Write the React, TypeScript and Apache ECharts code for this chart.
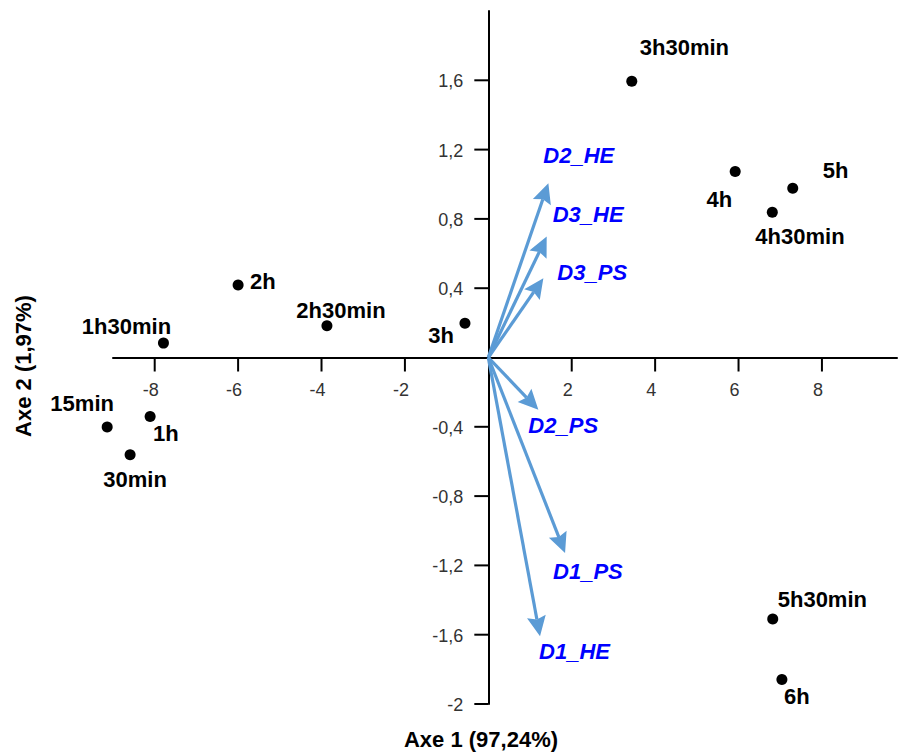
import React, { useEffect, useRef } from "react";
import * as echarts from "echarts";

// Observations (individuals)
const pointNames = ["15min", "30min", "1h", "1h30min", "2h", "2h30min", "3h", "3h30min", "4h", "4h30min", "5h", "5h30min", "6h"];
const pointX = [-9.14, -8.59, -8.11, -7.79, -6.0, -3.87, -0.56, 3.44, 5.92, 6.81, 7.3, 6.82, 7.04];
const pointY = [-0.401, -0.561, -0.34, 0.083, 0.419, 0.183, 0.198, 1.595, 1.073, 0.839, 0.977, -1.509, -1.859];
// label placement per point: [align, dx, dy]
const pointLabelPlace: [string, number, number][] = [
  ["center", -25, -23],
  ["center", 5, 25],
  ["left", 3, 17],
  ["center", -37, -17],
  ["left", 12, -3],
  ["center", 14, -15],
  ["right", -11, 12],
  ["left", 8, -34],
  ["right", -3, 28],
  ["left", -17, 24],
  ["left", 30, -18],
  ["left", 5, -19],
  ["left", 2, 17],
];

// Variables (arrows)
const varNames = ["D1_HE", "D1_PS", "D2_HE", "D2_PS", "D3_HE", "D3_PS"];
const varX = [1.24, 1.84, 1.44, 1.2, 1.4, 1.32];
const varY = [-1.609, -1.128, 1.006, -0.302, 0.698, 0.458];
const varLabelOffset: [number, number][] = [
  [-1, 15],
  [-12, 19],
  [-5, -28],
  [-10, 16],
  [6, -22],
  [14, -6],
];

const xTicks = [-8, -6, -4, -2, 2, 4, 6, 8];
const yTicks = [-2, -1.6, -1.2, -0.8, -0.4, 0.4, 0.8, 1.2, 1.6];
const xName = "Axe 1 (97,24%)";
const yName = "Axe 2 (1,97%)";

const FONT = '"Liberation Sans", Arial, sans-serif';
const TICK_COLOR = "#333";
const TICK_LEN = 14;

export default function App() {
  const ref = useRef<HTMLDivElement>(null);
  useEffect(() => {
    if (!ref.current) return;
    const chart = echarts.init(ref.current, undefined, { renderer: "svg" });
    const fmt = (v: number) => String(v).replace(".", ",");
    const axisCommon = {
      axisLine: { show: true, onZero: true, lineStyle: { color: "#000", width: 2 } },
      axisTick: { show: false },
      axisLabel: { show: false },
      splitLine: { show: false },
    };
    chart.setOption({
      animation: false,
      grid: { left: 113, right: 1, top: 11, bottom: 50, containLabel: false },
      xAxis: { type: "value", min: -9, max: 9.8, ...axisCommon },
      yAxis: { type: "value", min: -2, max: 2, ...axisCommon },
      graphic: [
        {
          type: "text",
          x: 481,
          y: 739,
          style: { text: xName, font: `bold 22px ${FONT}`, fill: "#000", textAlign: "center", textVerticalAlign: "middle" },
        },
        {
          type: "text",
          x: 23,
          y: 366,
          rotation: Math.PI / 2,
          style: { text: yName, font: `bold 22px ${FONT}`, fill: "#000", textAlign: "center", textVerticalAlign: "middle" },
        },
      ],
      series: [
        // x ticks + labels, along the x axis line (y = 0)
        {
          type: "custom",
          clip: false,
          silent: true,
          data: xTicks.map((v) => [v, 0]),
          renderItem: (params: any, api: any) => {
            const p = api.coord([api.value(0), 0]);
            return {
              type: "group",
              children: [
                {
                  type: "line",
                  shape: { x1: p[0], y1: p[1], x2: p[0], y2: p[1] + TICK_LEN },
                  style: { stroke: "#000", lineWidth: 2 },
                },
                {
                  type: "text",
                  x: p[0] - 4,
                  y: p[1] + 32,
                  style: {
                    text: fmt(api.value(0)),
                    font: `18px ${FONT}`,
                    fill: TICK_COLOR,
                    textAlign: "center",
                    textVerticalAlign: "middle",
                  },
                },
              ],
            };
          },
        },
        // y ticks + labels, along the y axis line (x = 0)
        {
          type: "custom",
          clip: false,
          silent: true,
          data: yTicks.map((v) => [0, v]),
          renderItem: (params: any, api: any) => {
            const p = api.coord([0, api.value(1)]);
            return {
              type: "group",
              children: [
                {
                  type: "line",
                  shape: { x1: p[0] - TICK_LEN, y1: p[1], x2: p[0], y2: p[1] },
                  style: { stroke: "#000", lineWidth: 2 },
                },
                {
                  type: "text",
                  x: p[0] - 25,
                  y: p[1] + 1,
                  style: {
                    text: fmt(api.value(1)),
                    font: `18px ${FONT}`,
                    fill: TICK_COLOR,
                    textAlign: "right",
                    textVerticalAlign: "middle",
                  },
                },
              ],
            };
          },
        },
        {
          type: "custom",
          clip: false,
          z: 3,
          data: varNames.map((n, i) => [varX[i], varY[i], i]),
          renderItem: (params: any, api: any) => {
            const i = api.value(2);
            const p0 = api.coord([0, 0]);
            const p1 = api.coord([api.value(0), api.value(1)]);
            const dx = p1[0] - p0[0];
            const dy = p1[1] - p0[1];
            const len = Math.sqrt(dx * dx + dy * dy);
            const ux = dx / len;
            const uy = dy / len;
            const L = 20;
            const W = 9.5;
            const bx = p1[0] - ux * L;
            const by = p1[1] - uy * L;
            const nx = -uy;
            const ny = ux;
            const off = varLabelOffset[i];
            return {
              type: "group",
              children: [
                {
                  type: "line",
                  shape: { x1: p0[0], y1: p0[1], x2: bx + ux * 3, y2: by + uy * 3 },
                  style: { stroke: "#5B9BD5", lineWidth: 3.2 },
                },
                {
                  type: "polygon",
                  shape: {
                    points: [
                      [p1[0], p1[1]],
                      [bx + nx * W, by + ny * W],
                      [bx + ux * 3, by + uy * 3],
                      [bx - nx * W, by - ny * W],
                    ],
                  },
                  style: { fill: "#5B9BD5" },
                },
                {
                  type: "text",
                  x: p1[0] + off[0],
                  y: p1[1] + off[1],
                  style: {
                    text: varNames[i],
                    font: `italic bold 22px ${FONT}`,
                    fill: "#0000FF",
                    textAlign: "left",
                    textVerticalAlign: "middle",
                  },
                },
              ],
            };
          },
        },
        {
          type: "scatter",
          clip: false,
          z: 4,
          symbol: "circle",
          symbolSize: 11,
          itemStyle: { color: "#000", opacity: 1 },
          data: pointNames.map((n, i) => ({
            name: n,
            value: [pointX[i], pointY[i]],
            label: {
              show: true,
              position: "inside",
              formatter: n,
              align: pointLabelPlace[i][0],
              verticalAlign: "middle",
              offset: [pointLabelPlace[i][1], pointLabelPlace[i][2]],
              color: "#000",
              fontSize: 22,
              fontWeight: "bold",
              fontFamily: FONT,
            },
          })),
        },
      ],
    });
    return () => chart.dispose();
  }, []);
  return (
    <div
      ref={ref}
      style={{ position: "fixed", left: 0, top: 0, width: 898, height: 754, background: "#fff" }}
    />
  );
}
